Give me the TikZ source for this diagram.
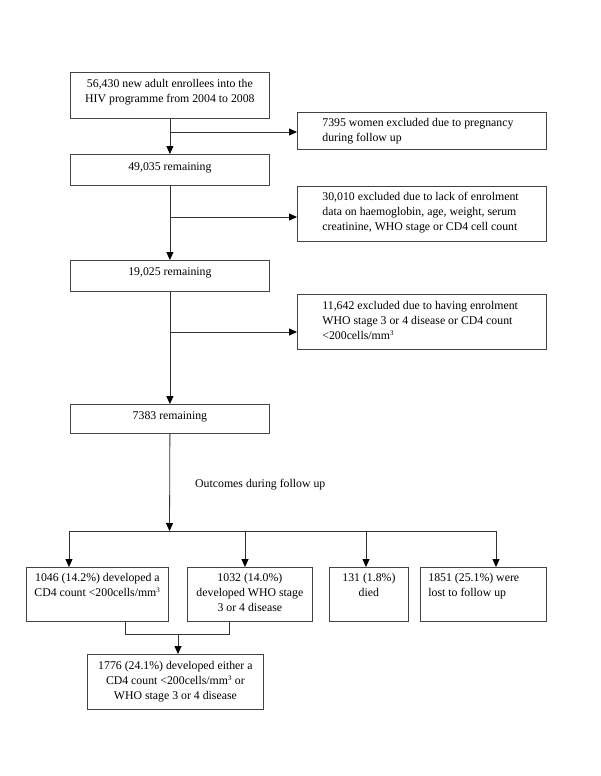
\documentclass[tikz,border=0pt]{standalone}
\usepackage{fontspec}
\setmainfont{Liberation Serif}
\usetikzlibrary{arrows.meta}
\definecolor{linec}{HTML}{333333}
\definecolor{boxc}{HTML}{444444}
\newcommand{\bxt}[5]{\parbox[c][#2][t]{#1}{\fontsize{11.8pt}{15pt}\selectfont\vspace*{#3}#4\strut #5\par}}
\begin{document}
\begin{tikzpicture}[x=1pt,y=-1pt,
  box/.style={draw=boxc, line width=0.8pt, inner sep=0pt, anchor=north west, fill=white},
  conn/.style={draw=linec, line width=0.8pt},
  arr/.style={conn, -{Triangle[length=8pt,width=7pt,color=black]}},
  lbl/.style={inner sep=0pt, anchor=base west, font=\fontsize{11.8pt}{15pt}\selectfont}]
\useasboundingbox[fill=white] (0,0) rectangle (600,776);

\node[box] (b1) at (70,72) {\bxt{199pt}{46pt}{5pt}{\centering}{56,430 new adult enrollees into the\\HIV programme from 2004 to 2008}};
\node[box] (e1) at (297,112) {\bxt{249pt}{37pt}{4pt}{\raggedright\leftskip=25pt\relax}{7395 women excluded due to pregnancy\\during follow up}};
\node[box] (b2) at (70,154) {\bxt{199pt}{31pt}{6pt}{\centering}{49,035 remaining}};
\node[box] (e2) at (297,186) {\bxt{249pt}{55pt}{4pt}{\raggedright\leftskip=25pt\relax}{30,010 excluded due to lack of enrolment\\data on haemoglobin, age, weight, serum\\creatinine, WHO stage or CD4 cell count}};
\node[box] (b3) at (70,260) {\bxt{199pt}{31pt}{5pt}{\centering}{19,025 remaining}};
\node[box] (e3) at (297,294) {\bxt{249pt}{55pt}{5pt}{\raggedright\leftskip=25pt\relax}{11,642 excluded due to having enrolment\\WHO stage 3 or 4 disease or CD4 count\\<200cells/mm\textsuperscript{\scriptsize 3}}};
\node[box] (b4) at (70,404) {\bxt{199pt}{29pt}{5pt}{\centering}{7383 remaining}};
\node[lbl] (out) at (195,487.5) {Outcomes during follow up};

\node[box] (A) at (26,567) {\bxt{142pt}{54pt}{4pt}{\centering}{1046 (14.2\%) developed a\\CD4 count <200cells/mm\textsuperscript{\scriptsize 3}}};
\node[box] (B) at (187,567) {\bxt{125pt}{54pt}{4pt}{\centering}{1032 (14.0\%)\\developed WHO stage\\3 or 4 disease}};
\node[box] (C) at (329,567) {\bxt{79pt}{54pt}{4pt}{\centering}{131 (1.8\%)\\died}};
\node[box] (D) at (420,567) {\bxt{126pt}{54pt}{4pt}{\raggedright\leftskip=8pt\relax}{1851 (25.1\%) were\\lost to follow up}};
\node[box] (E) at (87,654) {\bxt{176pt}{55pt}{5pt}{\centering}{1776 (24.1\%) developed either a\\CD4 count <200cells/mm\textsuperscript{\scriptsize 3} or\\WHO stage 3 or 4 disease}};

% main spine
\coordinate (j1) at (169.5,132);
\coordinate (j2) at (169.5,217);
\coordinate (j3) at (169.5,332);
\draw[arr] (b1.south) -- (b2.north);
\draw[arr] (j1) -- (j1 -| e1.west);
\draw[arr] (b2.south) -- (b3.north);
\draw[arr] (j2) -- (j2 -| e2.west);
\draw[arr] (b3.south) -- (b4.north);
\draw[arr] (j3) -- (j3 -| e3.west);

% outcomes
\coordinate (hub) at (169.5,531);
\coordinate (hA) at (69,531);
\coordinate (hB) at (245,531);
\coordinate (hC) at (366,531);
\coordinate (hD) at (496,531);
\draw[arr] (b4.south) -- (hub);
\draw[conn] (hA) -- (hD);
\draw[arr] (hA) -- (hA |- A.north);
\draw[arr] (hB) -- (hB |- B.north);
\draw[arr] (hC) -- (hC |- C.north);
\draw[arr] (hD) -- (hD |- D.north);

% combination
\coordinate (cA) at (125,634);
\coordinate (cB) at (229,634);
\coordinate (cE) at (178,634);
\draw[conn] (cA |- A.south) -- (cA) -- (cB) -- (cB |- B.south);
\draw[arr] (cE) -- (cE |- E.north);
\end{tikzpicture}
\end{document}
